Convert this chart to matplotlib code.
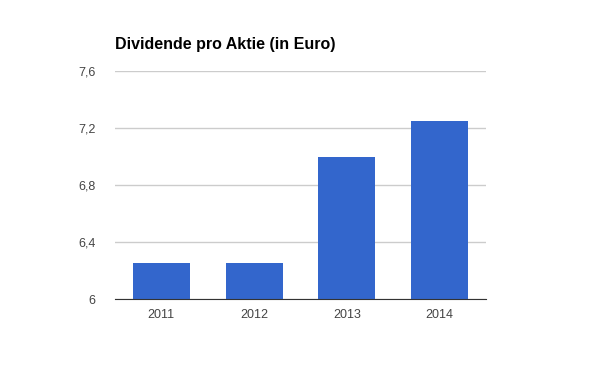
import matplotlib.pyplot as plt

years = ['2011', '2012', '2013', '2014']
dividends = [6.25, 6.25, 7.0, 7.25]
ytick_values = [6.0, 6.4, 6.8, 7.2, 7.6]
ytick_labels = ['6', '6,4', '6,8', '7,2', '7,6']

plt.rcParams['font.family'] = ['Liberation Sans', 'DejaVu Sans']

fig = plt.figure(figsize=(6, 3.71), dpi=100)
ax = fig.add_axes([115 / 600, 1 - 299 / 371, 371 / 600, 228 / 371])

x = range(len(years))
ax.bar(x, dividends, width=0.615, color='#3366cc', zorder=3)

ax.set_xlim(-0.5, len(years) - 0.5)
ax.set_ylim(6.0, 7.6)
ax.set_xticks(list(x))
ax.set_xticklabels(years)
ax.set_yticks(ytick_values)
ax.set_yticklabels(ytick_labels)

ax.grid(axis='y', color='#cccccc', linewidth=1, zorder=0)
for side in ['top', 'right', 'left']:
    ax.spines[side].set_visible(False)
ax.spines['bottom'].set_color('#333333')
ax.spines['bottom'].set_zorder(4)
ax.tick_params(axis='both', length=0, labelsize=9, colors='#444444')
ax.tick_params(axis='x', pad=7)
ax.tick_params(axis='y', pad=14)

fig.text(115 / 600, 1 - 45 / 371, 'Dividende pro Aktie (in Euro)',
         fontsize=11.5, fontweight='bold', color='black', va='center', ha='left')

fig.savefig('out.png', dpi=100, facecolor='white')
